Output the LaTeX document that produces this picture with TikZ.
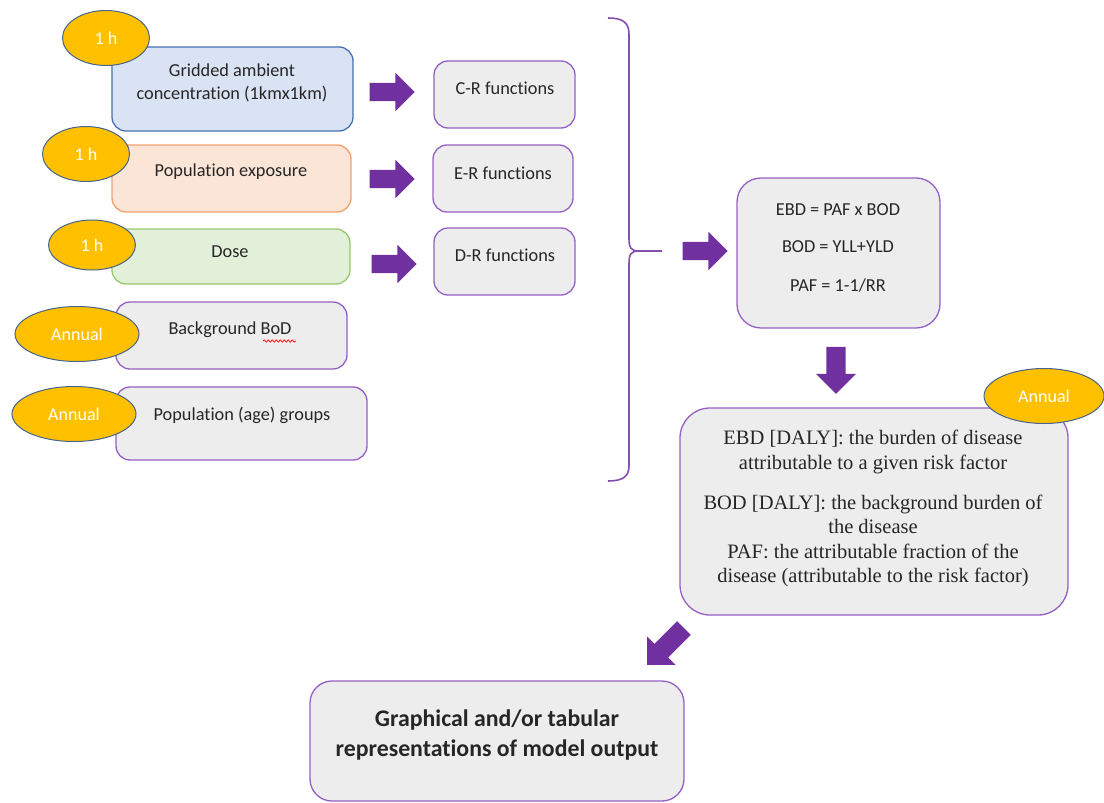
\documentclass[tikz,border=0pt]{standalone}
\usepackage{fontspec}
\setmainfont{Carlito}[RawFeature={-liga;-clig;-calt;-dlig}]
\newfontfamily\tnr{Liberation Serif}
\usetikzlibrary{shapes.geometric,shapes.arrows,decorations.pathmorphing}
\definecolor{purp}{HTML}{7030A0}
\definecolor{purpline}{RGB}{150,95,195}
\definecolor{gold}{HTML}{FFC000}
\definecolor{ellline}{RGB}{70,100,140}
\definecolor{bluefill}{HTML}{DAE3F3}
\definecolor{blueline}{RGB}{68,114,176}
\definecolor{orfill}{HTML}{FBE5D6}
\definecolor{orline}{RGB}{244,160,110}
\definecolor{grfill}{HTML}{E2F0D9}
\definecolor{grline}{RGB}{150,200,110}
\definecolor{grayfill}{HTML}{EDEDED}
\tikzset{
  box/.style={draw=purpline, fill=grayfill, line width=1.3pt, rounded corners=14pt, inner sep=0pt},
  txt/.style={align=center, font=\fontsize{18.3}{23}\selectfont, text=black!85, inner sep=0pt},
  serif/.style={align=center, font=\tnr\fontsize{20.5}{24.5}\selectfont, text=black!85, inner sep=0pt},
  tag/.style={ellipse, draw=ellline, fill=gold, line width=1pt, inner sep=0pt, text=white, font=\fontsize{18}{20}\selectfont},
  barrow/.style={single arrow, fill=purp, draw=none, inner xsep=0pt, inner ysep=9pt, minimum width=38pt, single arrow head extend=10pt, minimum height=45pt, single arrow tip angle=90},
}
\begin{document}
\begin{tikzpicture}[x=1pt,y=-1pt]
\useasboundingbox (0,0) rectangle (1104,803);
% input boxes
\node[box, draw=blueline, fill=bluefill, minimum width=241pt, minimum height=84pt] (g) at (232.5,89) {};
\node[txt] (gt) at (232,83) {Gridded ambient\\concentrat\kern0pt ion (1kmx1km)};
\node[box, draw=orline, fill=orfill, minimum width=239pt, minimum height=67pt] (p) at (231.5,178.5) {};
\node[txt] (pt) at (231,172) {Populat\kern0pt ion exposure};
\node[box, draw=grline, fill=grfill, minimum width=238pt, minimum height=55pt] (d) at (231,256.5) {};
\node[txt] (dt) at (230,252) {Dose};
\node[box, minimum width=231pt, minimum height=67pt] (b) at (231.5,335.5) {};
\node[txt] (bt) at (230,330) {Background BoD};
\draw[red, line width=0.7pt, decorate, decoration={snake, amplitude=1.2pt, segment length=4pt}] (263,341) -- (296,341);
\node[box, minimum width=251pt, minimum height=73pt] (a) at (241.5,423.5) {};
\node[txt] (at) at (242,415) {Populat\kern0pt ion (age) groups};
% tags
\node[tag, minimum width=87pt, minimum height=55pt] (e1) at (106,38) {1 h};
\node[tag, minimum width=87pt, minimum height=55pt] (e2) at (86,154) {1 h};
\node[tag, minimum width=87pt, minimum height=50pt] (e3) at (92,245) {1 h};
\node[tag, minimum width=124pt, minimum height=55pt] (e4) at (77,334) {Annual};
\node[tag, minimum width=124pt, minimum height=55pt] (e5) at (74,414) {Annual};
% arrows
\node[barrow] (r1) at (387.5,92) {};
\node[barrow] (r2) at (387.5,179) {};
\node[barrow] (r3) at (389.5,264) {};
% function boxes
\node[box, minimum width=141pt, minimum height=67pt] (cr) at (504.5,94.5) {};
\node[txt] (crt) at (505,88) {C-R funct\kern0pt ions};
\node[box, minimum width=140pt, minimum height=67pt] (er) at (503,178.5) {};
\node[txt] (ert) at (503,173) {E-R funct\kern0pt ions};
\node[box, minimum width=141pt, minimum height=67pt] (dr) at (504.5,261.5) {};
\node[txt] (drt) at (505,255) {D-R funct\kern0pt ions};
% brace
\coordinate (bt1) at (608,18);
\coordinate (bb1) at (608,481);
\coordinate (btip) at (662,251);
\draw[purp!85, line width=1.6pt] (bt1) .. controls (622,18) and (629,22) .. (629,34) -- (629,238)
  .. controls (629,248) and (631,251) .. (639,251) -- (btip);
\draw[purp!85, line width=1.6pt] (639,251) .. controls (631,251) and (629,254) .. (629,264) -- (629,466)
  .. controls (629,477) and (622,481) .. (bb1);
\node[barrow] (r4) at (700.5,251) {};
% formula box
\node[box, minimum width=203pt, minimum height=150pt, rounded corners=24pt] (f) at (838.5,253) {};
\node[txt] (f1) at (838,210) {EBD = PAF x BOD};
\node[txt] (f2) at (838,247) {BOD = YLL+YLD};
\node[txt] (f3) at (838,286) {PAF = 1-1/RR};
\node[barrow, rotate=-90, minimum width=40pt, minimum height=47pt] (r5) at (836,365.5) {};
% big box
\node[box, minimum width=388pt, minimum height=207pt, rounded corners=30pt] (big) at (874,511.5) {};
\node[serif] (bg1) at (873,452) {EBD [DALY]: the burden of disease\\attributable to a given risk factor};
\node[serif] (bg2) at (873,541) {BOD [DALY]: the background burden of\\the disease\\PAF: the attributable fraction of the\\disease (attributable to the risk factor)};
\node[tag, minimum width=120pt, minimum height=55pt] (e6) at (1044,396) {Annual};
\node[barrow, rotate=-135, minimum width=40pt, minimum height=52pt] (r6) at (669,643) {};
% output box
\node[box, minimum width=374pt, minimum height=120pt, rounded corners=22pt] (o) at (497,741) {};
\node[txt, font=\bfseries\fontsize{23.8}{30}\selectfont] (ot) at (497,735) {Graphical and/or tabular\\representat\kern0pt ions of model output};
\end{tikzpicture}
\end{document}
